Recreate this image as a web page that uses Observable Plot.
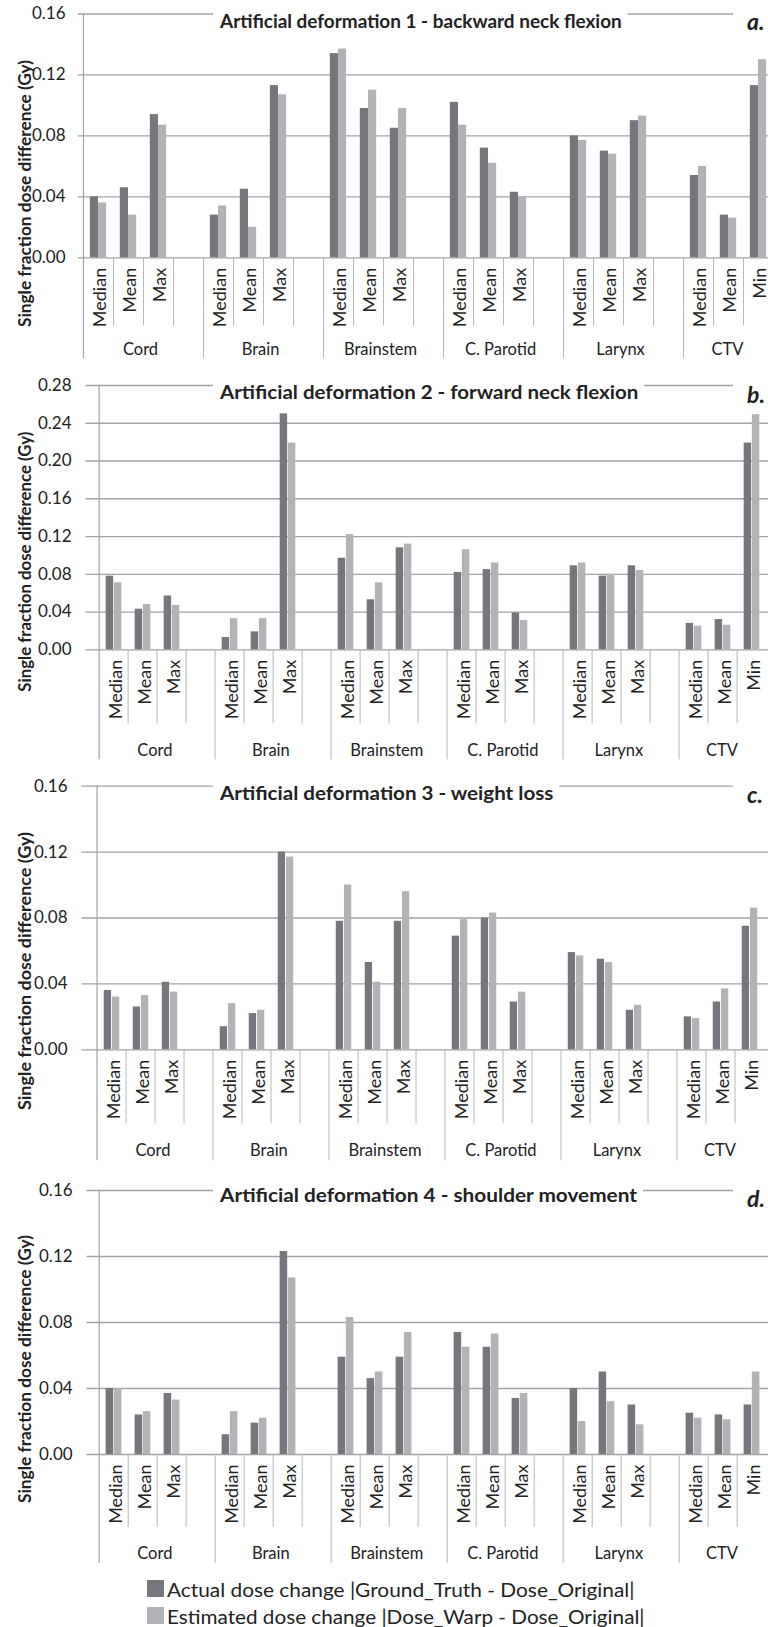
<!DOCTYPE html>
<html>
<head>
<meta charset="utf-8">
<script src="https://cdn.jsdelivr.net/npm/d3@7"></script>
<script src="https://cdn.jsdelivr.net/npm/@observablehq/plot@0.6"></script>
<style>
html, body { margin: 0; padding: 0; background: #fff; overflow: hidden; width: 768px; }
#chart { width: 768px; }
#chart svg { display: block; overflow: hidden; }
</style>
</head>
<body>
<div id="chart"></div>
<script>
// ---------------- data ----------------
const organs = ["Cord", "Brain", "Brainstem", "C. Parotid", "Larynx", "CTV"];
const organStats = [
  ["Median", "Mean", "Max"],
  ["Median", "Mean", "Max"],
  ["Median", "Mean", "Max"],
  ["Median", "Mean", "Max"],
  ["Median", "Mean", "Max"],
  ["Median", "Mean", "Min"]
];
const seriesNames = [
  "Actual dose change |Ground_Truth - Dose_Original|",
  "Estimated dose change |Dose_Warp - Dose_Original|"
];
const panelTitles = [
  "Artificial deformation 1 - backward neck flexion",
  "Artificial deformation 2 - forward neck flexion",
  "Artificial deformation 3 - weight loss",
  "Artificial deformation 4 - shoulder movement"
];
const panelLetters = ["a.", "b.", "c.", "d."];
const yTicksA = [0, 0.04, 0.08, 0.12, 0.16];
const yTicksB = [0, 0.04, 0.08, 0.12, 0.16, 0.20, 0.24, 0.28];
const yTicksC = [0, 0.04, 0.08, 0.12, 0.16];
const yTicksD = [0, 0.04, 0.08, 0.12, 0.16];

// order: Cord Median/Mean/Max, Brain ..., Brainstem ..., C. Parotid ..., Larynx ..., CTV Median/Mean/Min
const actualA    = [0.040, 0.046, 0.094, 0.028, 0.045, 0.113, 0.134, 0.098, 0.085, 0.102, 0.072, 0.043, 0.080, 0.070, 0.090, 0.054, 0.028, 0.113];
const estimatedA = [0.036, 0.028, 0.087, 0.034, 0.020, 0.107, 0.137, 0.110, 0.098, 0.087, 0.062, 0.040, 0.077, 0.068, 0.093, 0.060, 0.026, 0.130];
const actualB    = [0.078, 0.043, 0.057, 0.013, 0.019, 0.250, 0.097, 0.053, 0.108, 0.082, 0.085, 0.039, 0.089, 0.078, 0.089, 0.028, 0.032, 0.219];
const estimatedB = [0.071, 0.048, 0.047, 0.033, 0.033, 0.219, 0.122, 0.071, 0.112, 0.106, 0.092, 0.031, 0.092, 0.080, 0.084, 0.025, 0.026, 0.249];
const actualC    = [0.036, 0.026, 0.041, 0.014, 0.022, 0.120, 0.078, 0.053, 0.078, 0.069, 0.080, 0.029, 0.059, 0.055, 0.024, 0.020, 0.029, 0.075];
const estimatedC = [0.032, 0.033, 0.035, 0.028, 0.024, 0.117, 0.100, 0.041, 0.096, 0.079, 0.083, 0.035, 0.057, 0.053, 0.027, 0.019, 0.037, 0.086];
const actualD    = [0.040, 0.024, 0.037, 0.012, 0.019, 0.123, 0.059, 0.046, 0.059, 0.074, 0.065, 0.034, 0.040, 0.050, 0.030, 0.025, 0.024, 0.030];
const estimatedD = [0.040, 0.026, 0.033, 0.026, 0.022, 0.107, 0.083, 0.050, 0.074, 0.065, 0.073, 0.037, 0.020, 0.032, 0.018, 0.022, 0.021, 0.050];

// ---------------- styles / layout ----------------
const W = 768;
const FONT = "Lato, 'Open Sans', 'DejaVu Sans', sans-serif";
const TEXT = "#222222";
const DARK = "#76777c";
const LIGHT = "#b2b3b7";
const GRID = "#a3a3a3";
const DIV = "#b8b8b8";

const layouts = [
  {height: 365, mT: 13.5, mB: 107.7, mL: 82.3, bw: 30.05, tickPad: 17.3, labTop: 10, slotDiv: 68, groupDiv: 101, groupLab: 92,
   titleEnd: 621.7, titleBase: 27.8, letterBase: 30, ylab: {cy: 193.5, len: 267}},
  {height: 401, mT: 20, mB: 116.7, mL: 90, bw: 29.77, tickPad: 19, labTop: 10, slotDiv: 74, groupDiv: 110, groupLab: 101,
   titleEnd: 638.3, titleBase: 33.8, letterBase: 37.7, ylab: {cy: 196.7, len: 260}},
  {height: 401, mT: 19.7, mB: 117.7, mL: 86, bw: 29.92, tickPad: 19, labTop: 10, slotDiv: 74, groupDiv: 111, groupLab: 101,
   titleEnd: 553.3, titleBase: 33.8, letterBase: 37.3, ylab: {cy: 205, len: 278}},
  {height: 401, mT: 23, mB: 114, mL: 91.1, bw: 29.65, tickPad: 19, labTop: 10, slotDiv: 73, groupDiv: 109, groupLab: 99,
   titleEnd: 637, titleBase: 35.2, letterBase: 39.7, ylab: {cy: 202, len: 268}}
];

// slots: each organ has its stats + an empty gap slot (except the last organ)
const slots = [];
const valueSlots = [];
organs.forEach((organ, g) => {
  organStats[g].forEach((stat, j) => {
    const key = organ + "|" + stat;
    slots.push({key, organ, stat, first: j === 0});
    valueSlots.push({key, organ, stat});
  });
  if (g < organs.length - 1) slots.push({key: organ + "|gap", organ, stat: "", first: false});
});
const slotKeys = slots.map(d => d.key);
const groupStarts = slots.filter(d => d.first).map(d => d.key);
const innerDividers = slots.filter(d => !d.first).map(d => d.key);
const groups4 = organs.slice(0, 5).map((organ, g) => ({organ, anchor: organ + "|" + organStats[g][1]}));
const groupsLast = [{organ: organs[5], anchor: organs[5] + "|" + organStats[5][1]}];

function panel(p, actual, estimated, ticks, title, letter) {
  const mR = W - (p.mL + slotKeys.length * p.bw);
  const plotH = p.height - p.mT - p.mB;
  const barW = 8.2;
  const off = (p.bw - 2 * barW) / 2;
  const rowsA = valueSlots.map((s, i) => ({slot: s.key, value: actual[i], series: seriesNames[0]}));
  const rowsE = valueSlots.map((s, i) => ({slot: s.key, value: estimated[i], series: seriesNames[1]}));
  const yMax = ticks[ticks.length - 1];

  const svg = Plot.plot({
    width: W, height: p.height,
    marginTop: p.mT, marginBottom: p.mB, marginLeft: p.mL, marginRight: mR,
    style: {fontFamily: FONT, fontSize: "17px", color: TEXT, background: "#fff"},
    x: {type: "band", domain: slotKeys, padding: 0, axis: null},
    y: {domain: [0, yMax], axis: null, label: null},
    marks: [
      Plot.ruleY(ticks.slice(0, -1), {stroke: GRID, strokeWidth: 1.3, insetLeft: -4.5}),
      Plot.ruleY(ticks.slice(-1), {stroke: GRID, strokeWidth: 1.3, insetLeft: -4.5, insetRight: (W - mR) - 733}),
      Plot.barY(rowsA, {x: "slot", y: "value", fill: DARK, insetLeft: off, insetRight: p.bw - off - barW}),
      Plot.barY(rowsE, {x: "slot", y: "value", fill: LIGHT, insetLeft: off + barW, insetRight: p.bw - off - 2 * barW}),
      Plot.ruleX(innerDividers, {x: d => d, dx: -p.bw / 2, insetTop: plotH, insetBottom: -p.slotDiv, stroke: DIV, strokeWidth: 1}),
      Plot.ruleX(groupStarts.slice(1), {x: d => d, dx: -p.bw / 2, insetTop: plotH, insetBottom: -p.groupDiv, stroke: DIV, strokeWidth: 1}),
      Plot.ruleX(groupStarts.slice(0, 1), {x: d => d, dx: -p.bw / 2, insetBottom: -p.groupDiv, stroke: GRID, strokeWidth: 1.2}),
      Plot.axisY(ticks, {tickSize: 0, tickPadding: p.tickPad, tickFormat: d3.format(".2f"), fontSize: 17, fill: TEXT, label: null}),
      Plot.text(valueSlots, {x: "key", text: "stat", frameAnchor: "bottom", rotate: -90, textAnchor: "end", lineAnchor: "middle",
        dy: p.labTop, dx: 2, fontSize: 18, fill: TEXT}),
      Plot.text(groups4, {x: "anchor", text: "organ", frameAnchor: "bottom", dy: p.groupLab, dx: p.bw / 2 - 3, fontSize: 16.5, fill: TEXT, lineAnchor: "middle"}),
      Plot.text(groupsLast, {x: "anchor", text: "organ", frameAnchor: "bottom", dy: p.groupLab, dx: -1, fontSize: 16.5, fill: TEXT, lineAnchor: "middle"})
    ]
  });

  const s = d3.select(svg);
  const deco = s.append("g").attr("font-family", FONT).attr("fill", TEXT).attr("text-anchor", "start");
  // title gap in the top gridline
  deco.append("rect").attr("x", 213).attr("y", p.mT - 4).attr("width", p.titleEnd + 6 - 213).attr("height", 8).attr("fill", "#fff");
  deco.append("text").attr("x", 220).attr("y", p.titleBase).attr("text-anchor", "start")
    .attr("font-size", 19).attr("font-weight", "bold")
    .attr("textLength", p.titleEnd - 220).attr("lengthAdjust", "spacingAndGlyphs")
    .text(title);
  deco.append("text").attr("x", 747).attr("y", p.letterBase).attr("text-anchor", "start")
    .attr("font-size", 23).attr("font-weight", "bold").attr("font-style", "italic")
    .text(letter);
  deco.append("text")
    .attr("transform", `translate(30.5,${p.ylab.cy}) rotate(-90)`)
    .attr("text-anchor", "middle")
    .attr("font-size", 16.5).attr("font-weight", "bold")
    .attr("textLength", p.ylab.len).attr("lengthAdjust", "spacingAndGlyphs")
    .text("Single fraction dose difference (Gy)");
  return svg;
}

const chart = document.getElementById("chart");
chart.append(panel(layouts[0], actualA, estimatedA, yTicksA, panelTitles[0], panelLetters[0]));
chart.append(panel(layouts[1], actualB, estimatedB, yTicksB, panelTitles[1], panelLetters[1]));
chart.append(panel(layouts[2], actualC, estimatedC, yTicksC, panelTitles[2], panelLetters[2]));
chart.append(panel(layouts[3], actualD, estimatedD, yTicksD, panelTitles[3], panelLetters[3]));

// legend
const legendColors = [DARK, LIGHT];
const legendLens = [634 - 166.5, 644 - 166.5];
const leg = d3.create("svg").attr("width", W).attr("height", 59).attr("font-family", FONT);
seriesNames.forEach((name, i) => {
  const g = leg.append("g").attr("transform", `translate(0,${i * 27})`);
  g.append("rect").attr("x", 147).attr("y", 12).attr("width", 17).attr("height", 17).attr("fill", legendColors[i]);
  g.append("text").attr("x", 167).attr("y", 28.5).attr("font-size", 19.5).attr("fill", TEXT).attr("text-anchor", "start")
    .attr("textLength", legendLens[i]).attr("lengthAdjust", "spacingAndGlyphs").text(name);
});
chart.append(leg.node());
</script>
</body>
</html>
